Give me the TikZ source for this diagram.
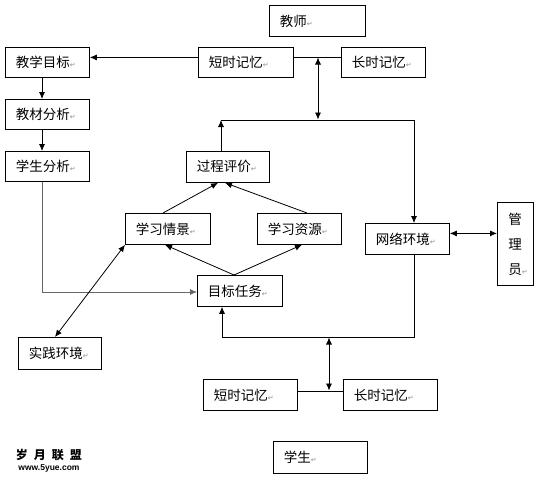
\documentclass[tikz,border=0pt]{standalone}
\usepackage{fontspec}
\setmainfont{Noto Sans CJK SC}
\newfontfamily\symf{DejaVu Sans}
\newfontfamily\latf{Liberation Sans}
\usetikzlibrary{arrows.meta}
\newcommand\parmark{{\symf\fontsize{7}{8}\selectfont\color{black!45}↵}}
\begin{document}
\begin{tikzpicture}[x=1pt,y=-1pt,
  bx/.style={draw,line width=0.8pt,inner xsep=10.5pt,inner ysep=0pt,align=left,anchor=north west,font=\fontsize{13.5}{16}\selectfont},
  ln/.style={line width=0.8pt},
  arr/.style={ln,-{Latex[length=7pt,width=6pt]}},
  dbl/.style={ln,{Latex[length=7pt,width=6pt]}-{Latex[length=7pt,width=6pt]}}]
\useasboundingbox (0,0) rectangle (538,479);
% boxes
\node[bx,text width=75pt,minimum height=31pt] (teacher) at (269,5) {教师\parmark};
\node[bx,text width=63pt,minimum height=30pt] (jxmb) at (5,47) {教学目标\parmark};
\node[bx,text width=74pt,minimum height=30pt] (dsjy1) at (198,47) {短时记忆\parmark};
\node[bx,text width=63pt,minimum height=30pt] (csjy1) at (341,47) {长时记忆\parmark};
\node[bx,text width=63pt,minimum height=30pt] (jcfx) at (5,99) {教材分析\parmark};
\node[bx,text width=63pt,minimum height=30pt] (xsfx) at (5,151) {学生分析\parmark};
\node[bx,text width=62pt,minimum height=31pt] (gcpj) at (186,151) {过程评价\parmark};
\node[bx,text width=64pt,minimum height=31pt] (xxqj) at (125,213) {学习情景\parmark};
\node[bx,text width=63pt,minimum height=31pt] (xxzy) at (257,213) {学习资源\parmark};
\node[bx,text width=64pt,minimum height=31pt] (mbrw) at (197,275) {目标任务\parmark};
\node[bx,text width=63pt,minimum height=31pt] (wlhj) at (365,223) {网络环境\parmark};
\node[bx,inner xsep=11pt,text width=14pt,minimum height=83pt,font=\fontsize{13.5}{25}\selectfont] (gly) at (497,202) {管\\理\\员\parmark};
\node[bx,text width=62pt,minimum height=32pt] (sjhj) at (18,337) {实践环境\parmark};
\node[bx,text width=73pt,minimum height=31pt] (dsjy2) at (203,379) {短时记忆\parmark};
\node[bx,text width=73pt,minimum height=31pt] (csjy2) at (343,379) {长时记忆\parmark};
\node[bx,text width=73pt,minimum height=32pt] (xs) at (273,441) {学生\parmark};
% logo
\node[inner sep=0pt,font=\fontsize{12}{13}\selectfont\bfseries] (logo1) at (49,455) {岁\hspace{6pt}月\hspace{6pt}联\hspace{6pt}盟};
\node[inner sep=0pt,font=\latf\fontsize{8.5}{9}\selectfont\bfseries] (logo2) at (49,468) {www.5yue.com};
% coordinates
\coordinate (colx) at (42,0);
\coordinate (bend) at (42,292);
\coordinate (lp1) at (221,120);
\coordinate (lp2) at (414,120);
\coordinate (lb1) at (414,337);
\coordinate (lb2) at (222,337);
\coordinate (ta) at (318,57.5);
\coordinate (tb) at (318,119.5);
\coordinate (ba) at (329,337.5);
\coordinate (bb) at (329,390.5);
% connectors
\draw[arr] ([yshift=5pt]dsjy1.west) -- ([yshift=5pt]jxmb.east);
\draw[ln] ([yshift=5pt]dsjy1.east) -- ([yshift=5pt]csjy1.west);
\draw[dbl] (ta) -- (tb);
\draw[arr] (jxmb.south -| colx) -- (jcfx.north -| colx);
\draw[arr] (jcfx.south -| colx) -- (xsfx.north -| colx);
\draw[arr,draw=black!60] (xsfx.south -| colx) -- (bend) -- (bend -| mbrw.west);
\draw[arr] (gcpj.north -| lp1) -- (lp1);
\draw[arr] (lp1) -- (lp2) -- (lp2 |- wlhj.north);
\draw[arr] (wlhj.south -| lb1) -- (lb1) -- (lb2) -- (lb2 |- mbrw.south);
\draw[dbl] (ba) -- (bb);
\draw[ln] ([yshift=3.5pt]dsjy2.east) -- ([yshift=3.5pt]csjy2.west);
\draw[dbl] ([yshift=5.5pt]wlhj.east) -- ([yshift=5.5pt]wlhj.east -| gly.west);
\draw[dbl] ([xshift=37pt]sjhj.north west) -- (xxqj.south west);
\draw[arr] ([xshift=38pt]xxqj.north west) -- ([xshift=32pt]gcpj.south west);
\draw[arr] ([xshift=50pt]xxzy.north west) -- ([xshift=39pt]gcpj.south west);
\draw[arr] ([xshift=37pt]mbrw.north west) -- ([xshift=40pt]xxqj.south west);
\draw[arr] ([xshift=37pt]mbrw.north west) -- ([xshift=45pt]xxzy.south west);
\end{tikzpicture}
\end{document}
